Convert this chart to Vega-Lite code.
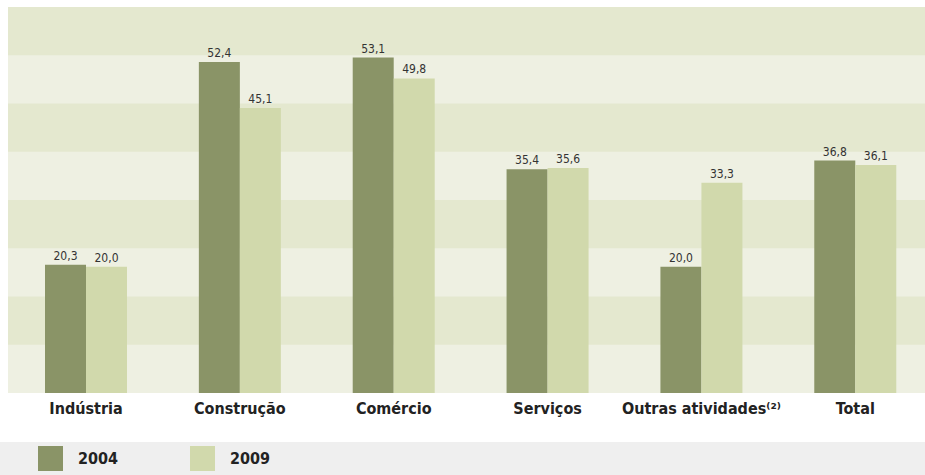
{
  "$schema": "https://vega.github.io/schema/vega-lite/v6.json",
  "width": 917,
  "height": 386,
  "autosize": {"type": "none"},
  "padding": {"left": 8, "top": 7, "right": 0, "bottom": 82},
  "background": "white",
  "config": {
    "view": {"fill": "#eef0e2", "stroke": null},
    "locale": {"number": {"decimal": ",", "thousands": ".", "grouping": [3], "currency": ["R$", ""]}}
  },
  "datasets": {
    "bars": [
      {"cat": "Indústria", "year": "2004", "value": 20.3},
      {"cat": "Indústria", "year": "2009", "value": 20.0},
      {"cat": "Construção", "year": "2004", "value": 52.4},
      {"cat": "Construção", "year": "2009", "value": 45.1},
      {"cat": "Comércio", "year": "2004", "value": 53.1},
      {"cat": "Comércio", "year": "2009", "value": 49.8},
      {"cat": "Serviços", "year": "2004", "value": 35.4},
      {"cat": "Serviços", "year": "2009", "value": 35.6},
      {"cat": "Outras atividades⁽²⁾", "year": "2004", "value": 20.0},
      {"cat": "Outras atividades⁽²⁾", "year": "2009", "value": 33.3},
      {"cat": "Total", "year": "2004", "value": 36.8},
      {"cat": "Total", "year": "2009", "value": 36.1}
    ],
    "bands": [
      {"lo": 7.6375, "hi": 15.275},
      {"lo": 22.9125, "hi": 30.55},
      {"lo": 38.1875, "hi": 45.825},
      {"lo": 53.4625, "hi": 61.1}
    ]
  },
  "layer": [
    {
      "data": {"name": "bands"},
      "mark": {"type": "rect", "fill": "#e4e8cf"},
      "encoding": {
        "y": {"field": "lo", "type": "quantitative", "scale": {"domain": [0, 61.1], "nice": false, "zero": true}, "axis": null},
        "y2": {"field": "hi"}
      }
    },
    {
      "data": {"name": "bars"},
      "mark": {"type": "bar"},
      "encoding": {
        "x": {
          "field": "cat", "type": "nominal", "sort": null,
          "scale": {"paddingInner": 0.467, "paddingOuter": 0.2136, "align": 0.563},
          "axis": {"title": null, "domain": false, "ticks": false, "labelAngle": 0, "labelPadding": 7,
                   "labelFont": "DejaVu Sans Condensed", "labelFontWeight": "bold", "labelFontSize": 16, "labelColor": "#222222"}
        },
        "xOffset": {"field": "year", "type": "nominal", "scale": {"paddingInner": 0, "paddingOuter": 0}},
        "y": {"field": "value", "type": "quantitative", "scale": {"domain": [0, 61.1], "nice": false}, "axis": null},
        "color": {
          "field": "year", "type": "nominal",
          "scale": {"domain": ["2004", "2009"], "range": ["#8a9467", "#d1d9ac"]},
          "legend": {
            "title": "x", "titleColor": "#efefef", "titleFontSize": 2, "titleOrient": "right", "titlePadding": 649,
            "orient": "none", "legendX": -8, "legendY": 435, "direction": "horizontal",
            "fillColor": "#efefef", "padding": 4, "symbolType": "square", "symbolSize": 625,
            "symbolStrokeWidth": 0, "symbolOffset": 34, "symbolOpacity": 1,
            "labelFont": "DejaVu Sans Condensed", "labelFontWeight": "bold", "labelFontSize": 16, "labelColor": "#222222",
            "labelOffset": 15, "columnPadding": 37
          }
        }
      }
    },
    {
      "data": {"name": "bars"},
      "mark": {"type": "text", "baseline": "alphabetic", "dy": -5, "font": "DejaVu Sans Condensed", "fontSize": 12, "color": "#333333"},
      "encoding": {
        "x": {"field": "cat", "type": "nominal", "sort": null},
        "xOffset": {"field": "year", "type": "nominal"},
        "y": {"field": "value", "type": "quantitative"},
        "text": {"field": "value", "type": "quantitative", "format": ".1f"}
      }
    }
  ]
}
